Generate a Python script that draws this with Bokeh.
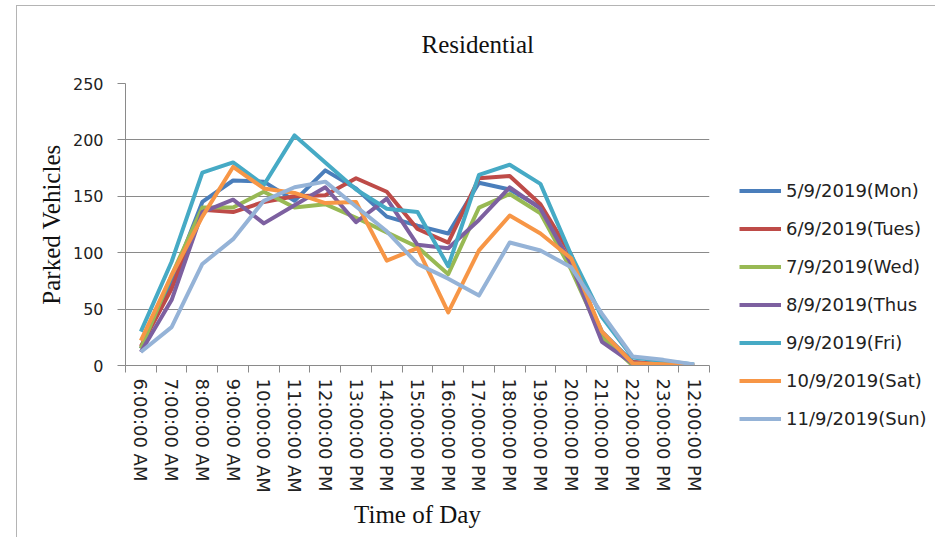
from bokeh.plotting import figure
from bokeh.models import FixedTicker, Legend, LegendItem, Range1d, Title, ColumnDataSource
from bokeh.embed import file_html
from bokeh.resources import INLINE

# ---- data ----
times = ["6:00:00 AM", "7:00:00 AM", "8:00:00 AM", "9:00:00 AM", "10:00:00 AM",
         "11:00:00 AM", "12:00:00 PM", "13:00:00 PM", "14:00:00 PM", "15:00:00 PM",
         "16:00:00 PM", "17:00:00 PM", "18:00:00 PM", "19:00:00 PM", "20:00:00 PM",
         "21:00:00 PM", "22:00:00 PM", "23:00:00 PM", "12:00:00 PM"]

series_names = ["5/9/2019(Mon)", "6/9/2019(Tues)", "7/9/2019(Wed)", "8/9/2019(Thus",
                "9/9/2019(Fri)", "10/9/2019(Sat)", "11/9/2019(Sun)"]

mon = [15, 75, 145, 164, 163, 146, 173, 157, 132, 124, 117, 162, 156, 140, 90, 30, 3, 1, 0]
tue = [17, 68, 138, 136, 145, 150, 151, 166, 154, 121, 109, 166, 168, 143, 98, 27, 3, 1, 0]
wed = [15, 80, 140, 140, 154, 140, 143, 131, 118, 105, 81, 140, 152, 135, 85, 25, 0, 0, 0]
thu = [12, 58, 136, 147, 126, 142, 158, 127, 148, 107, 104, 129, 158, 139, 90, 21, 2, 0, 0]
fri = [30, 92, 171, 180, 160, 204, 180, 156, 139, 136, 88, 169, 178, 161, 98, 43, 7, 4, 1]
sat = [22, 80, 132, 176, 157, 153, 144, 145, 93, 104, 47, 102, 133, 117, 95, 30, 2, 1, 0]
sun = [12, 34, 90, 112, 146, 158, 163, 141, 119, 90, 77, 62, 109, 102, 87, 46, 8, 5, 1]

y_ticks = [0, 50, 100, 150, 200, 250]

colors = ["#4A7EBB", "#BE4B48", "#98B954", "#7D60A0", "#46AAC5", "#F79646", "#95B3D7"]

series = [mon, tue, wed, thu, fri, sat, sun]

n = len(times)
pos = [i + 0.5 for i in range(n)]
bounds = list(range(n + 1))

SERIF = "Liberation Serif"
SANS = "DejaVu Sans"
GRID = "#8a8a8a"

p = figure(frame_width=584, frame_height=282,
           x_range=Range1d(0, n), y_range=Range1d(0, 250),
           output_backend="svg", toolbar_location=None,
           min_border_left=108, min_border_right=215,
           min_border_top=77, min_border_bottom=172)
p.styles = {"margin-left": "16px", "margin-top": "5px",
            "border-top": "1px solid #b4b4b4", "border-left": "1px solid #b4b4b4"}
p.outline_line_color = None
p.background_fill_color = "white"
p.border_fill_color = "white"

# title
p.title = Title(text="Residential", align="left", offset=296, vertical_align="top",
                standoff=47, text_font=SERIF, text_font_size="25px",
                text_font_style="normal", text_color="#111111")

# x axis
xa = p.xaxis[0]
xa.ticker = FixedTicker(ticks=pos, minor_ticks=bounds)
xa.major_label_overrides = {x: t for x, t in zip(pos, times)}
xa.major_tick_line_color = None
xa.major_tick_out = 7
xa.major_tick_in = 0
xa.minor_tick_out = 7
xa.minor_tick_in = 0
xa.minor_tick_line_color = GRID
xa.axis_line_color = GRID
xa.major_label_orientation = "vertical"
xa.major_label_standoff = 6
xa.major_label_text_font = SANS
xa.major_label_text_font_size = "18px"
xa.major_label_text_color = "#222222"
xa.axis_label = "Time of Day"
xa.axis_label_text_font = SERIF
xa.axis_label_text_font_size = "25px"
xa.axis_label_text_font_style = "normal"
xa.axis_label_text_color = "#111111"
xa.axis_label_standoff = 5

# y axis
ya = p.yaxis[0]
ya.ticker = FixedTicker(ticks=y_ticks, minor_ticks=[])
ya.major_tick_out = 8
ya.major_tick_in = 0
ya.major_tick_line_color = GRID
ya.axis_line_color = GRID
ya.major_label_standoff = 14
ya.major_label_text_font = SANS
ya.major_label_text_font_size = "16px"
ya.major_label_text_color = "#222222"
ya.axis_label = "Parked Vehicles"
ya.axis_label_text_font = SERIF
ya.axis_label_text_font_size = "25px"
ya.axis_label_text_font_style = "normal"
ya.axis_label_text_color = "#111111"
ya.axis_label_standoff = 5

p.xgrid.visible = False
p.ygrid.grid_line_color = GRID
p.ygrid.grid_line_width = 1

items = []
for name, vals, col in zip(series_names, series, colors):
    src = ColumnDataSource(dict(x=pos, y=vals))
    r = p.line("x", "y", source=src, line_color=col, line_width=4, line_join="round")
    items.append(LegendItem(label=name, renderers=[r]))

legend = Legend(items=items, location=(30, -64))
legend.label_text_font = SANS
legend.label_text_font_size = "18px"
legend.label_text_color = "#222222"
legend.glyph_width = 42
legend.glyph_height = 21
legend.label_height = 21
legend.label_standoff = 5
legend.spacing = 17
legend.padding = 0
legend.margin = 0
legend.border_line_color = None
legend.background_fill_alpha = 0
p.add_layout(legend, "right")

open("out.html", "w").write(file_html(p, INLINE))
